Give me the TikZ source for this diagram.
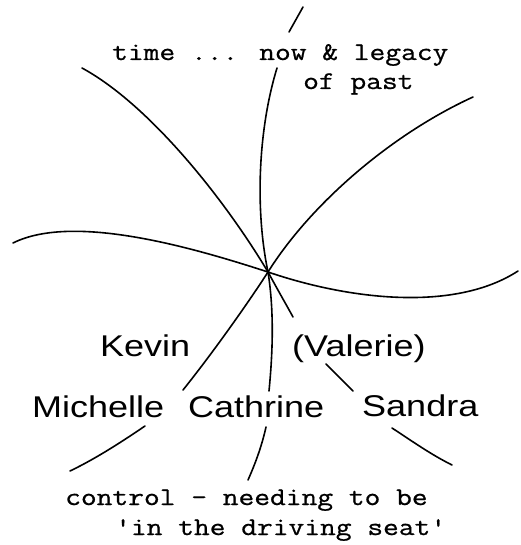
\documentclass[tikz,border=0pt]{standalone}
\usepackage{fontspec}
\newfontfamily\typfont[FakeStretch=1.2,FakeBold=0.8]{Latin Modern Mono}
\newfontfamily\labfont[FakeStretch=1.2]{Liberation Sans}
\begin{document}
\begin{tikzpicture}[x=1pt,y=-1pt,
  stroke/.style={line width=1.6pt,line cap=round,line join=round},
  typtext/.style={anchor=base west,inner sep=0pt,font=\typfont\fontsize{25.5}{30}\selectfont},
  labtext/.style={anchor=base west,inner sep=0pt,font=\labfont\fontsize{30}{36}\selectfont}]
\useasboundingbox (0,0) rectangle (520,545);
\coordinate (ctr) at (268,272);
% vertical line (time / control)
\coordinate (vTopA) at (289,32);
\coordinate (vTopB) at (303,7);
\coordinate (vTop) at (277,68);
\coordinate (vLow) at (269,391);
\coordinate (vBotA) at (266,427);
\coordinate (vBotB) at (248,480);
\draw[stroke] (vTopA) -- (vTopB);
\draw[stroke] (vTop) .. controls (258,130) and (255,210) .. (ctr)
                     .. controls (274,310) and (273,350) .. (vLow);
\draw[stroke] (vBotA) .. controls (262,445) and (256,462) .. (vBotB);
% upper left to lower right
\coordinate (ulStart) at (82,68);
\coordinate (ulEnd) at (293,317);
\coordinate (valA) at (326,364);
\coordinate (valB) at (353,391);
\coordinate (sanA) at (392,428);
\coordinate (sanB) at (452,465);
\draw[stroke] (ulStart) .. controls (150,105) and (225,200) .. (ctr)
                        .. controls (280,294) and (287,306) .. (ulEnd);
\draw[stroke] (valA) -- (valB);
\draw[stroke] (sanA) .. controls (412,441) and (430,454) .. (sanB);
% upper right to lower left
\coordinate (urStart) at (473,97);
\coordinate (kevEnd) at (183,390);
\coordinate (micA) at (145,426);
\coordinate (micB) at (70,471);
\draw[stroke] (urStart) .. controls (390,135) and (310,205) .. (ctr)
                        .. controls (250,300) and (215,350) .. (kevEnd);
\draw[stroke] (micA) .. controls (120,443) and (95,459) .. (micB);
% horizontal wave
\coordinate (hL) at (13,243);
\coordinate (hR) at (518,271);
\draw[stroke] (hL) .. controls (75,212) and (200,250) .. (ctr)
                   .. controls (350,300) and (455,312) .. (hR);
% texts
\node[typtext] (t1) at (112,60) {time ... now \& legacy};
\node[typtext] (t2) at (303,89) {of past};
\node[labtext] (kevin) at (100,356) {Kevin};
\node[labtext] (valerie) at (292,356) {(Valerie)};
\node[labtext] (michelle) at (32,417) {Michelle};
\node[labtext] (cathrine) at (188,417) {Cathrine};
\node[labtext] (sandra) at (362,416) {Sandra};
\node[typtext] (b1) at (65,505) {control - needing to be};
\node[typtext] (b2) at (115,535) {'in the driving seat'};
\end{tikzpicture}
\end{document}
